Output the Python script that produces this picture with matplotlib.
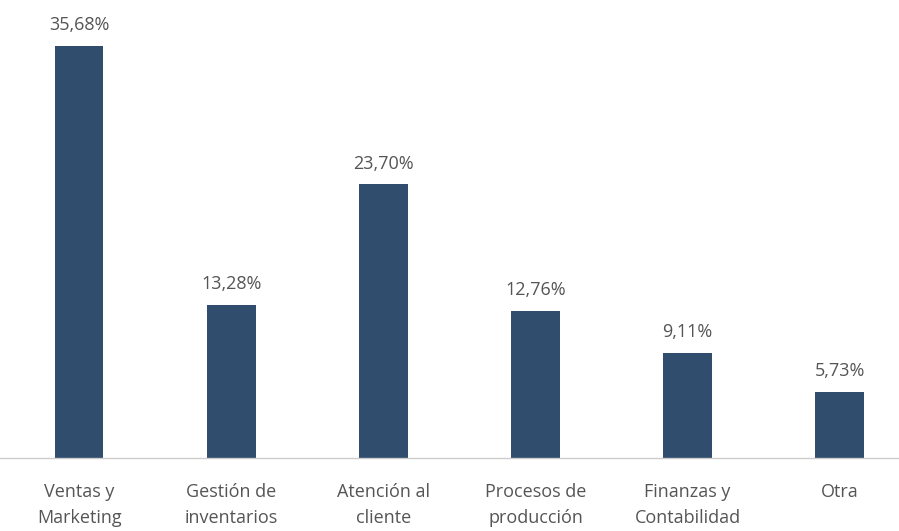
import matplotlib.pyplot as plt

categories = ["Ventas y\nMarketing", "Gestión de\ninventarios", "Atención al\ncliente",
              "Procesos de\nproducción", "Finanzas y\nContabilidad", "Otra"]
values = [35.68, 13.28, 23.70, 12.76, 9.11, 5.73]
labels = ["35,68%", "13,28%", "23,70%", "12,76%", "9,11%", "5,73%"]

fig = plt.figure(figsize=(8.99, 5.31), dpi=100)
ax = fig.add_axes([0.0, 0.1375, 1.0, 0.8625])

x = range(len(values))
ax.bar(x, values, width=0.32, color="#304d6e", zorder=2)

for xi, v, lab in zip(x, values, labels):
    ax.text(xi, v + 1.0, lab, ha="center", va="bottom", fontsize=13,
            color="#555555", family="Open Sans")

ax.set_xlim(-0.52, 5.39)
ax.set_ylim(0, 39.65)
ax.set_xticks(list(x))
ax.set_xticklabels(categories, fontsize=13, color="#555555", family="Open Sans",
                   linespacing=1.55)
ax.tick_params(axis="x", length=0, pad=18)
ax.set_yticks([])
for side in ["top", "left", "right"]:
    ax.spines[side].set_visible(False)
ax.spines["bottom"].set_color("#cccccc")
ax.spines["bottom"].set_linewidth(1)

fig.savefig("out.png", dpi=100)
